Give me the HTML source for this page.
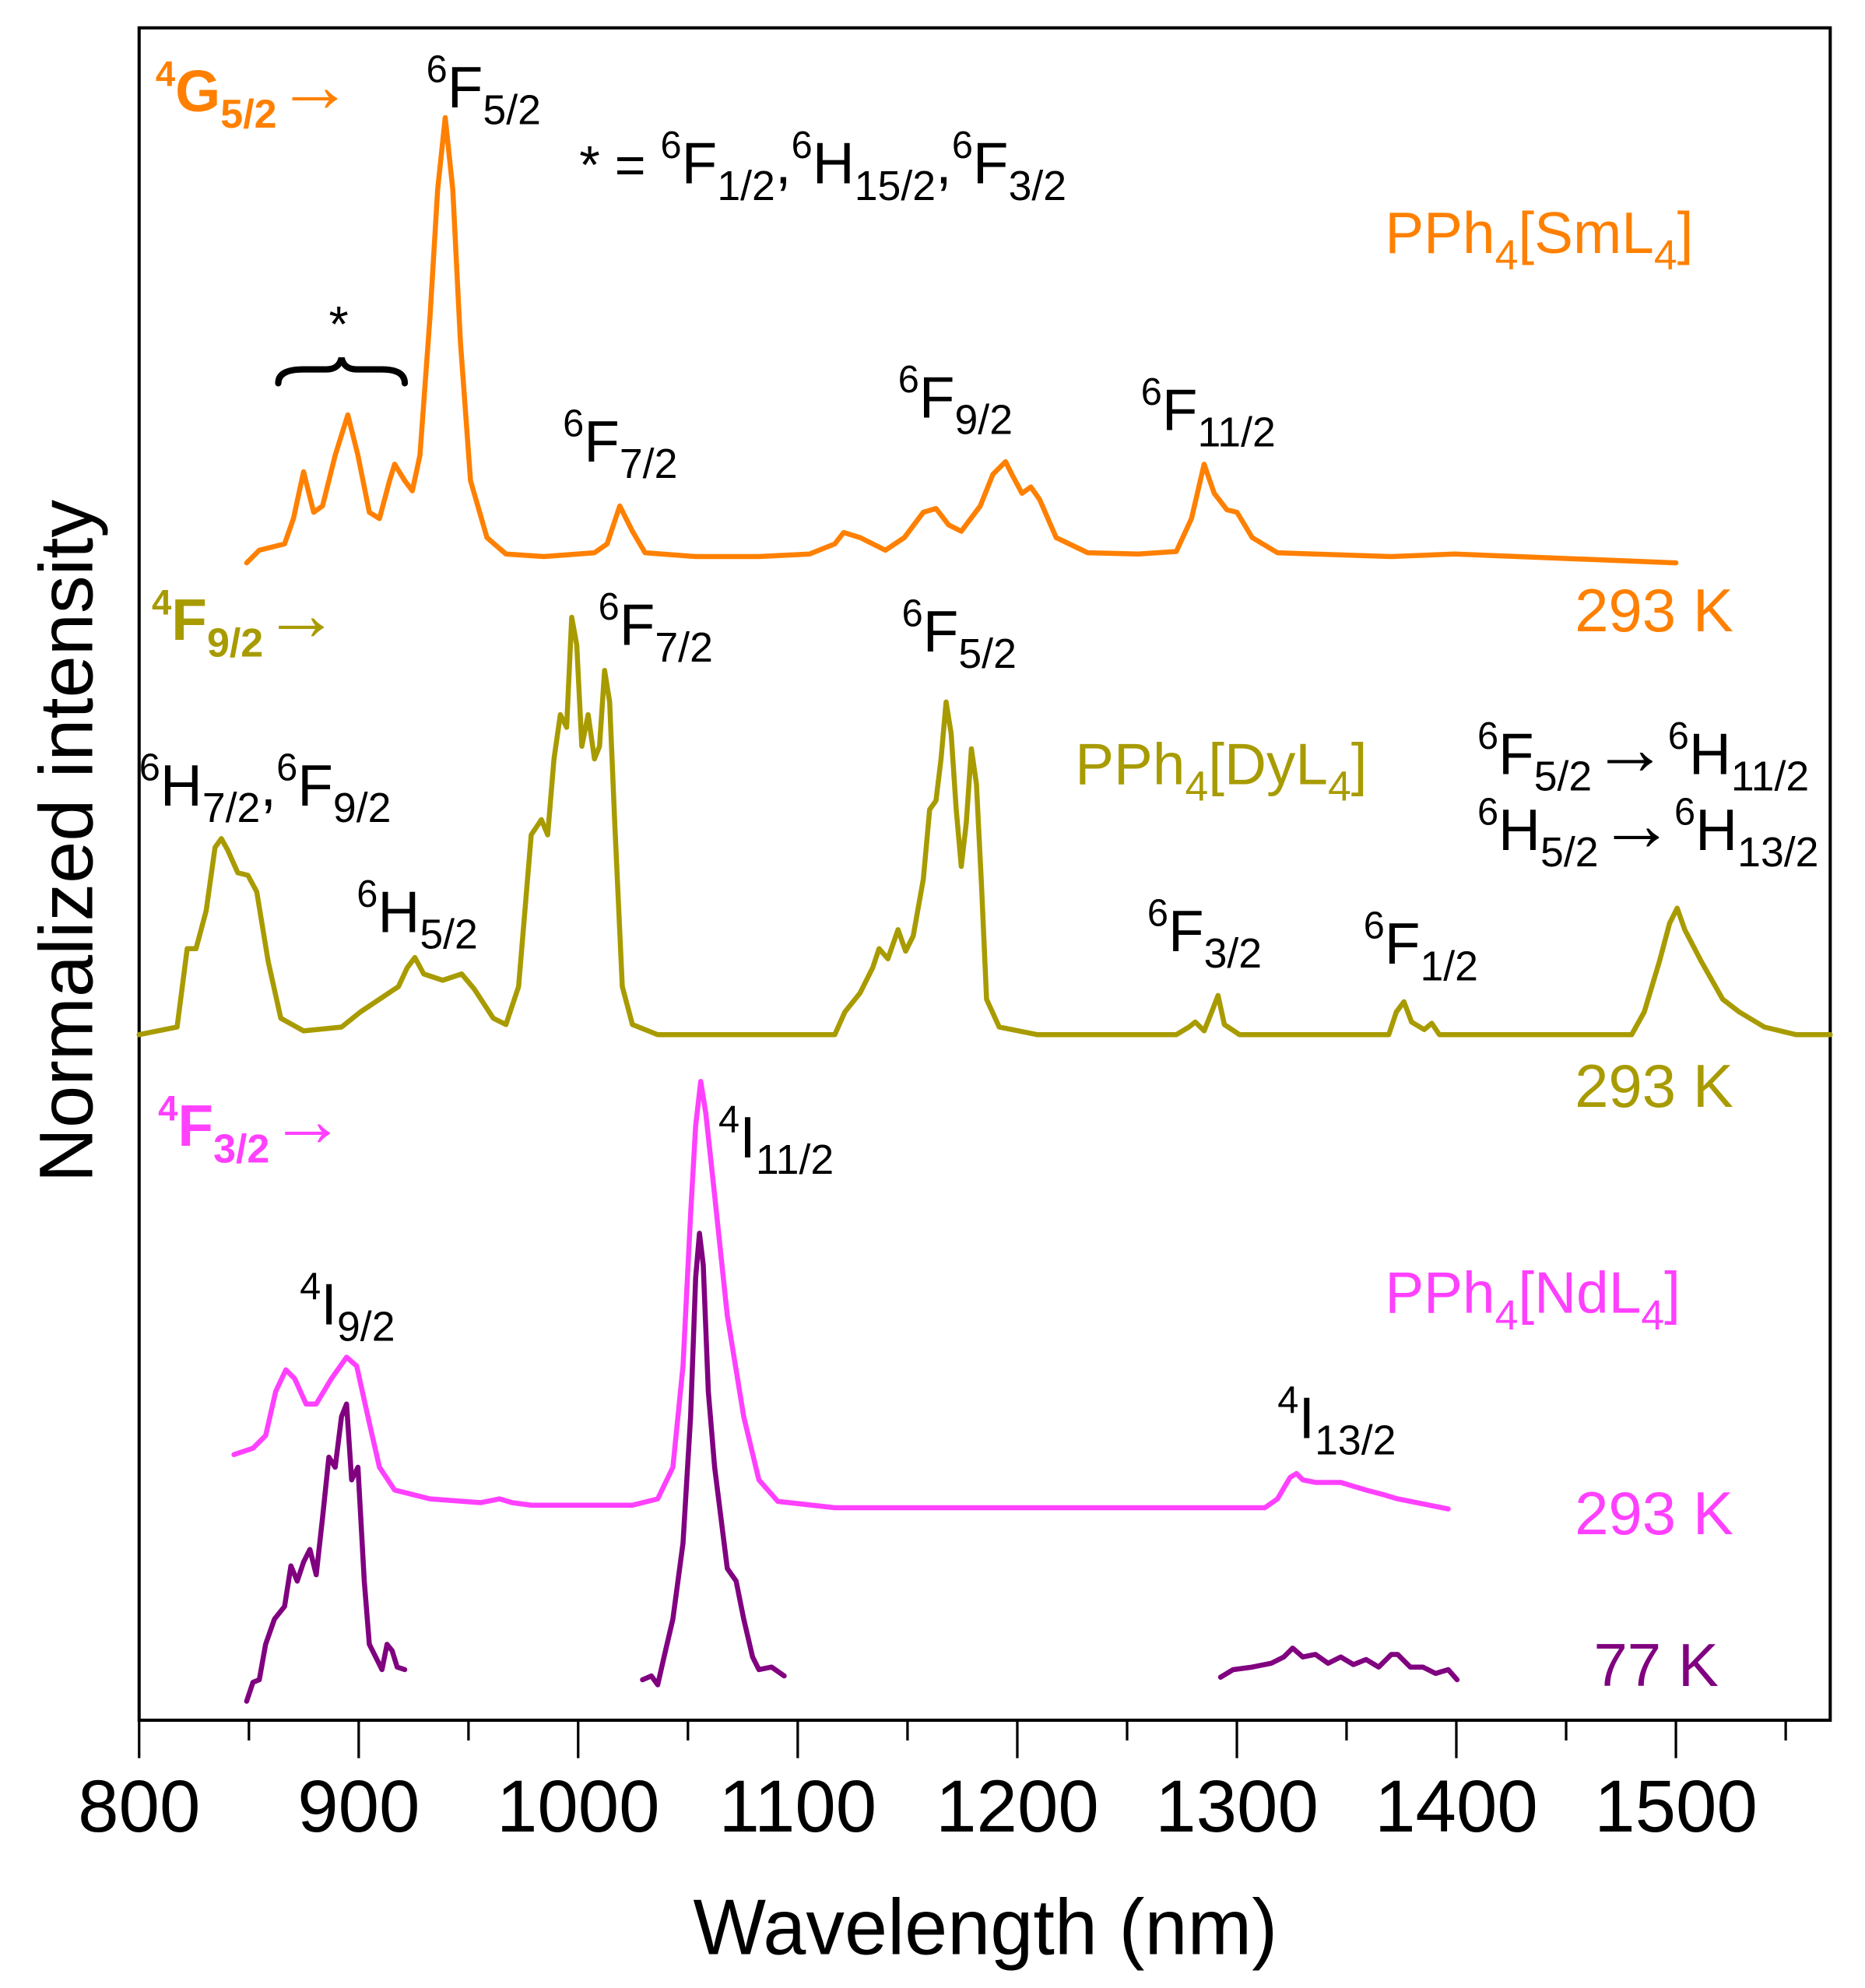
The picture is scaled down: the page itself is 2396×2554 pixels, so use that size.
<!DOCTYPE html>
<html><head><meta charset="utf-8"><style>
html,body{margin:0;padding:0;background:#fff;}
svg{display:block;}
text{font-family:"Liberation Sans",Arial,sans-serif;}
</style></head><body>
<svg width="2396" height="2554" viewBox="0 0 1474.5 1571.7" xmlns="http://www.w3.org/2000/svg">
<rect x="0" y="0" width="1474.5" height="1571.7" fill="#fff"/>
<rect x="110" y="22" width="1337" height="1338" fill="none" stroke="#000" stroke-width="2.5"/>
<g stroke="#000" stroke-width="2">
<line x1="110" y1="1360" x2="110" y2="1390"/><line x1="283.6" y1="1360" x2="283.6" y2="1390"/>
<line x1="457.1" y1="1360" x2="457.1" y2="1390"/><line x1="630.7" y1="1360" x2="630.7" y2="1390"/>
<line x1="804.3" y1="1360" x2="804.3" y2="1390"/><line x1="977.9" y1="1360" x2="977.9" y2="1390"/>
<line x1="1151.4" y1="1360" x2="1151.4" y2="1390"/><line x1="1325" y1="1360" x2="1325" y2="1390"/>
<line x1="196.8" y1="1360" x2="196.8" y2="1376"/><line x1="370.4" y1="1360" x2="370.4" y2="1376"/>
<line x1="543.9" y1="1360" x2="543.9" y2="1376"/><line x1="717.5" y1="1360" x2="717.5" y2="1376"/>
<line x1="891.1" y1="1360" x2="891.1" y2="1376"/><line x1="1064.6" y1="1360" x2="1064.6" y2="1376"/>
<line x1="1238.2" y1="1360" x2="1238.2" y2="1376"/><line x1="1411.8" y1="1360" x2="1411.8" y2="1376"/>
</g>
<g font-size="58" text-anchor="middle" fill="#000">
<text x="110" y="1448">800</text><text x="283.6" y="1448">900</text><text x="457.1" y="1448">1000</text>
<text x="630.7" y="1448">1100</text><text x="804.3" y="1448">1200</text><text x="977.9" y="1448">1300</text>
<text x="1151.4" y="1448">1400</text><text x="1325" y="1448">1500</text>
</g>
<text x="779" y="1545" font-size="62" text-anchor="middle" textLength="462" lengthAdjust="spacingAndGlyphs">Wavelength (nm)</text>
<text transform="translate(73,665) rotate(-90)" font-size="60" text-anchor="middle" textLength="540" lengthAdjust="spacingAndGlyphs">Normalized intensity</text>

<g fill="none" stroke-width="4" stroke-linejoin="round" stroke-linecap="round">
<polyline stroke="#FF8000" points="195,445 205,435 225,430 232,410 240,373 248,405 255,400 265,360 275,328 283,360 292,405 300,410 308,380 312,367 320,380 326,388 332,360 340,250 346,150 352,93 358,150 364,270 372,380 385,425 400,438 430,440 470,437 480,430 490,400 500,420 510,437 550,440 600,440 640,438 660,430 667,421 680,425 700,435 715,425 730,405 740,402 750,415 760,420 775,400 785,375 795,365 800,375 808,390 815,385 822,395 835,425 860,437 900,438 930,436 942,410 952,367 960,390 970,403 978,405 990,425 1010,437 1100,440 1150,438 1200,440 1325,445"/>
<polyline stroke="#A89B00" points="110,818 140,812 148,750 155,750 163,720 170,670 175,663 180,672 188,690 196,692 203,705 212,760 222,805 240,815 270,812 285,800 300,790 315,780 322,765 328,757 335,770 350,775 365,770 375,782 390,805 400,810 410,780 420,660 428,648 433,660 438,600 443,565 448,575 452,488 456,510 460,590 465,565 470,600 474,590 478,530 482,555 486,650 492,780 500,810 520,818 660,818 668,800 680,785 690,765 695,750 702,758 710,735 716,752 722,740 730,695 735,640 740,633 744,600 748,555 752,580 756,640 760,685 764,650 768,592 772,620 776,700 780,790 790,812 820,818 930,818 940,812 945,808 952,815 958,800 963,787 968,810 980,818 1098,818 1104,800 1110,792 1116,808 1126,814 1132,809 1138,818 1290,818 1300,800 1312,760 1320,730 1326,718 1332,735 1345,760 1362,790 1375,800 1395,812 1420,818 1447,818"/>
<polyline stroke="#FF40FF" points="185,1150 200,1145 210,1135 218,1100 226,1083 233,1090 242,1110 250,1110 262,1090 274,1073 282,1080 292,1125 300,1160 312,1178 340,1185 380,1188 395,1185 405,1188 420,1190 500,1190 520,1185 532,1160 540,1080 546,960 550,890 554,855 558,880 565,945 575,1040 588,1120 600,1170 615,1187 660,1192 1000,1192 1010,1185 1020,1168 1025,1165 1030,1170 1040,1172 1060,1172 1080,1178 1095,1182 1105,1185 1120,1188 1145,1193"/>
<g stroke="#800080">
<polyline points="195,1345 200,1330 205,1328 210,1300 217,1280 225,1270 230,1238 235,1250 240,1235 245,1225 250,1245 255,1200 260,1152 265,1160 270,1120 274,1110 278,1170 283,1160 288,1250 292,1300 297,1310 302,1320 306,1300 310,1305 314,1318 320,1320"/>
<polyline points="508,1328 515,1325 520,1332 525,1310 532,1280 540,1220 546,1120 550,1010 553,975 556,1000 560,1100 565,1160 570,1200 575,1240 582,1250 588,1280 595,1310 600,1320 610,1318 620,1325"/>
<polyline points="965,1326 975,1320 990,1318 1005,1315 1015,1310 1022,1303 1030,1310 1040,1308 1050,1315 1060,1310 1070,1316 1080,1312 1090,1318 1100,1308 1105,1308 1115,1318 1125,1318 1135,1323 1145,1320 1152,1328"/>
</g>
</g>
<path d="M220,303 Q220,292 240,292 L258,292 Q268,292 270,283 Q272,292 282,292 L302,292 Q320,292 320,303" fill="none" stroke="#000" stroke-width="5" stroke-linecap="round"/>
<text x="260" y="270" font-size="40">*</text>

<g font-size="46" fill="#000">
<text x="123" y="88" fill="#FF8000" font-weight="bold"><tspan font-size="28" dy="-20">4</tspan><tspan dy="20">G</tspan><tspan font-size="32" dy="13">5/2</tspan><tspan dy="-13" font-size="60" font-weight="normal">→</tspan></text>
<text x="337" y="85"><tspan font-size="30" dy="-20">6</tspan><tspan dy="20">F</tspan><tspan font-size="33" dy="13">5/2</tspan></text>
<text x="458" y="145"><tspan font-size="42">* = </tspan><tspan font-size="30" dy="-20">6</tspan><tspan dy="20">F</tspan><tspan font-size="33" dy="13">1/2</tspan><tspan dy="-13">,</tspan><tspan font-size="30" dy="-20">6</tspan><tspan dy="20">H</tspan><tspan font-size="33" dy="13">15/2</tspan><tspan dy="-13">,</tspan><tspan font-size="30" dy="-20">6</tspan><tspan dy="20">F</tspan><tspan font-size="33" dy="13">3/2</tspan></text>
<text x="1095" y="200" fill="#FF8000">PPh<tspan font-size="33" dy="13">4</tspan><tspan dy="-13">[SmL</tspan><tspan font-size="33" dy="13">4</tspan><tspan dy="-13">]</tspan></text>
<text x="445" y="365"><tspan font-size="30" dy="-20">6</tspan><tspan dy="20">F</tspan><tspan font-size="33" dy="13">7/2</tspan></text>
<text x="710" y="330"><tspan font-size="30" dy="-20">6</tspan><tspan dy="20">F</tspan><tspan font-size="33" dy="13">9/2</tspan></text>
<text x="902" y="340"><tspan font-size="30" dy="-20">6</tspan><tspan dy="20">F</tspan><tspan font-size="33" dy="13">11/2</tspan></text>
<text x="1245" y="499" font-size="48" fill="#FF8000">293 K</text>

<text x="120" y="506" fill="#A89B00" font-weight="bold"><tspan font-size="28" dy="-20">4</tspan><tspan dy="20">F</tspan><tspan font-size="32" dy="13">9/2</tspan><tspan dy="-13" font-size="60" font-weight="normal">→</tspan></text>
<text x="473" y="510"><tspan font-size="30" dy="-20">6</tspan><tspan dy="20">F</tspan><tspan font-size="33" dy="13">7/2</tspan></text>
<text x="713" y="515"><tspan font-size="30" dy="-20">6</tspan><tspan dy="20">F</tspan><tspan font-size="33" dy="13">5/2</tspan></text>
<text x="110" y="637"><tspan font-size="30" dy="-20">6</tspan><tspan dy="20">H</tspan><tspan font-size="33" dy="13">7/2</tspan><tspan dy="-13">,</tspan><tspan font-size="30" dy="-20">6</tspan><tspan dy="20">F</tspan><tspan font-size="33" dy="13">9/2</tspan></text>
<text x="850" y="620" fill="#A89B00">PPh<tspan font-size="33" dy="13">4</tspan><tspan dy="-13">[DyL</tspan><tspan font-size="33" dy="13">4</tspan><tspan dy="-13">]</tspan></text>
<text x="1168" y="612"><tspan font-size="30" dy="-20">6</tspan><tspan dy="20">F</tspan><tspan font-size="33" dy="13">5/2</tspan><tspan dy="-13" font-size="60">→</tspan><tspan font-size="30" dy="-20">6</tspan><tspan dy="20">H</tspan><tspan font-size="33" dy="13">11/2</tspan></text>
<text x="1168" y="672"><tspan font-size="30" dy="-20">6</tspan><tspan dy="20">H</tspan><tspan font-size="33" dy="13">5/2</tspan><tspan dy="-13" font-size="60">→</tspan><tspan font-size="30" dy="-20">6</tspan><tspan dy="20">H</tspan><tspan font-size="33" dy="13">13/2</tspan></text>
<text x="282" y="737"><tspan font-size="30" dy="-20">6</tspan><tspan dy="20">H</tspan><tspan font-size="33" dy="13">5/2</tspan></text>
<text x="907" y="752"><tspan font-size="30" dy="-20">6</tspan><tspan dy="20">F</tspan><tspan font-size="33" dy="13">3/2</tspan></text>
<text x="1078" y="762"><tspan font-size="30" dy="-20">6</tspan><tspan dy="20">F</tspan><tspan font-size="33" dy="13">1/2</tspan></text>
<text x="1245" y="875" font-size="48" fill="#A89B00">293 K</text>

<text x="125" y="906" fill="#FF40FF" font-weight="bold"><tspan font-size="28" dy="-20">4</tspan><tspan dy="20">F</tspan><tspan font-size="32" dy="13">3/2</tspan><tspan dy="-13" font-size="60" font-weight="normal">→</tspan></text>
<text x="568" y="915"><tspan font-size="30" dy="-20">4</tspan><tspan dy="20">I</tspan><tspan font-size="33" dy="13">11/2</tspan></text>
<text x="1095" y="1038" fill="#FF40FF">PPh<tspan font-size="33" dy="13">4</tspan><tspan dy="-13">[NdL</tspan><tspan font-size="33" dy="13">4</tspan><tspan dy="-13">]</tspan></text>
<text x="237" y="1047"><tspan font-size="30" dy="-20">4</tspan><tspan dy="20">I</tspan><tspan font-size="33" dy="13">9/2</tspan></text>
<text x="1010" y="1137"><tspan font-size="30" dy="-20">4</tspan><tspan dy="20">I</tspan><tspan font-size="33" dy="13">13/2</tspan></text>
<text x="1245" y="1213" font-size="48" fill="#FF40FF">293 K</text>
<text x="1260" y="1333" font-size="48" fill="#800080">77 K</text>
</g>
</svg>
</body></html>
